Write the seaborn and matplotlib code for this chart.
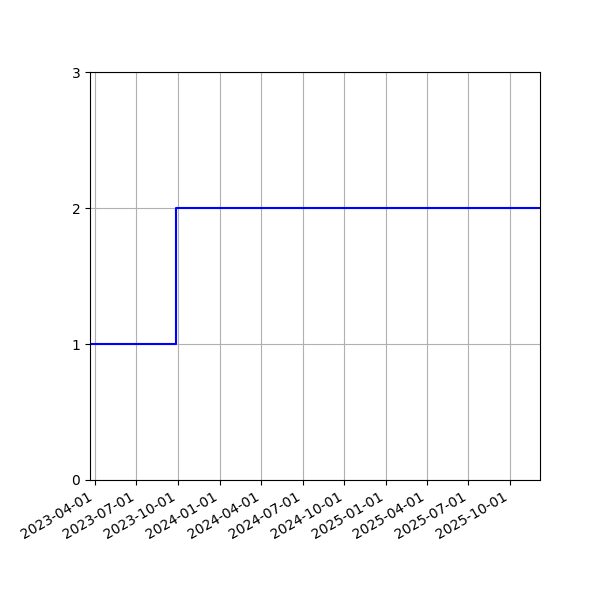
import pandas as pd
import seaborn as sns
import matplotlib
matplotlib.use("Agg")
import matplotlib.pyplot as plt
import matplotlib.dates as mdates

# step data: count over time
dates = ["2023-03-21", "2023-09-27", "2025-12-06"]
counts = [1, 2, 2]

df = pd.DataFrame({"date": pd.to_datetime(dates), "count": counts})

fig, ax = plt.subplots(figsize=(6, 6), dpi=100)
sns.lineplot(data=df, x="date", y="count", ax=ax, color="blue",
             drawstyle="steps-post", linewidth=1.5)

ax.set_xlim(df["date"].min(), df["date"].max())
ax.set_ylim(0, 3)
ax.set_yticks([0, 1, 2, 3])
ax.xaxis.set_major_locator(mdates.MonthLocator(bymonth=[1, 4, 7, 10]))
ax.xaxis.set_major_formatter(mdates.DateFormatter("%Y-%m-%d"))
ax.set_xlabel("")
ax.set_ylabel("")
ax.grid(True)

fig.autofmt_xdate()
fig.subplots_adjust(left=0.15, right=0.9, top=0.88, bottom=0.2)
plt.savefig("out.png", dpi=100)
plt.close()
